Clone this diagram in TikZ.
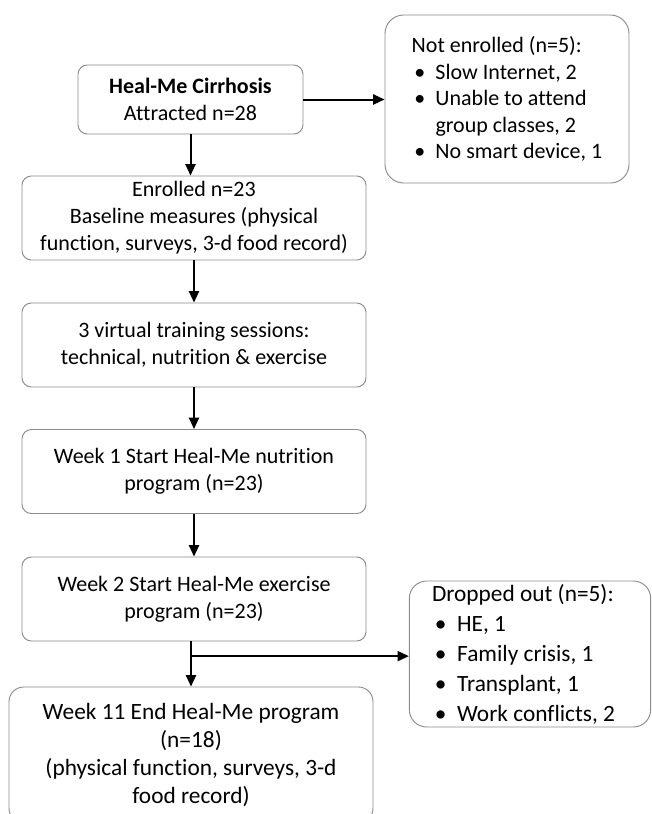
\documentclass[tikz,border=0pt]{standalone}
\usepackage{fontspec}
\setmainfont{Carlito}[Ligatures=NoCommon]
\usepackage{xcolor}
\definecolor{boxline}{HTML}{8C8C8C}
\usetikzlibrary{arrows.meta,positioning}
\newcommand{\bulw}{1.08em}
\newcommand{\bul}{\makebox[\bulw][l]{\hspace{0.12em}\textbullet}}

\begin{document}
\begin{tikzpicture}[
            x=0.75pt,y=-0.75pt,>=Latex,
            stepbox/.style={rounded corners=7pt, draw=boxline, line width=0.7pt, fill=white, align=center,
                font=\fontsize{16.5}{20.2}\selectfont, minimum width=258pt, minimum height=63pt, inner sep=2pt},
            notebox/.style={rounded corners=14pt, draw=boxline, line width=0.7pt, fill=white, align=flush left,
                inner xsep=17pt, inner ysep=2pt},
            arr/.style={-{Triangle[length=8.5pt,width=7.5pt]}, line width=1.5pt, draw=black}
        ]
            \useasboundingbox (0,0) rectangle (652,814);

            % main column
            \node[stepbox, minimum width=168.75pt, minimum height=51.75pt] (cirrhosis) at (190.5,99.5)
                {\textbf{Heal-Me Cirrhosis}\\Attracted n=28};
            \node[stepbox] (enrolled) at (194,218)
                {Enrolled n=23\\Baseline measures (physical\\function, surveys, 3-d food record)};
            \node[stepbox] (training) at (194,345)
                {3 virtual training sessions:\\technical, nutrition \& exercise};
            \node[stepbox] (week1) at (194,471.5)
                {Week 1 Start Heal-Me nutrition\\program (n=23)};
            \node[stepbox] (week2) at (194,599)
                {Week 2 Start Heal-Me exercise\\program (n=23)};
            \node[stepbox, rounded corners=11pt, font=\fontsize{17.5}{21}\selectfont, minimum width=273pt, minimum height=102pt] (week11) at (191,755)
                {Week 11 End Heal-Me program\\(n=18)\\(physical function, surveys, 3-d\\food record)};

            % side boxes
            \node[notebox, font=\fontsize{16.5}{19.9}\selectfont, minimum width=183pt, minimum height=126pt] (notenrolled) at (507,99)
                {Not enrolled (n=5):\\\bul Slow Internet, 2\\\bul Unable to attend\\\hspace*{\bulw}group classes, 2\\\bul No smart device, 1};
            \node[notebox, rounded corners=13pt, font=\fontsize{17.5}{22.5}\selectfont, text width=147pt, minimum height=109.5pt] (dropped) at (530,654)
                {Dropped out (n=5):\\\bul HE, 1\\\bul Family crisis, 1\\\bul Transplant, 1\\\bul Work conflicts, 2};

            % arrows
            \draw[arr] (cirrhosis.east) -- (cirrhosis.east -| notenrolled.west);
            \draw[arr] (cirrhosis.south) -- (cirrhosis.south |- enrolled.north);
            \draw[arr] (enrolled.south) -- (training.north);
            \draw[arr] (training.south) -- (week1.north);
            \draw[arr] (week1.south) -- (week2.north);
            \coordinate (split) at ([yshift=-11pt]week2.south -| week11.north);
            \draw[arr] (week2.south -| week11.north) -- (week11.north);
            \draw[arr] (split) -- (split -| dropped.west);
        \end{tikzpicture}
\end{document}
